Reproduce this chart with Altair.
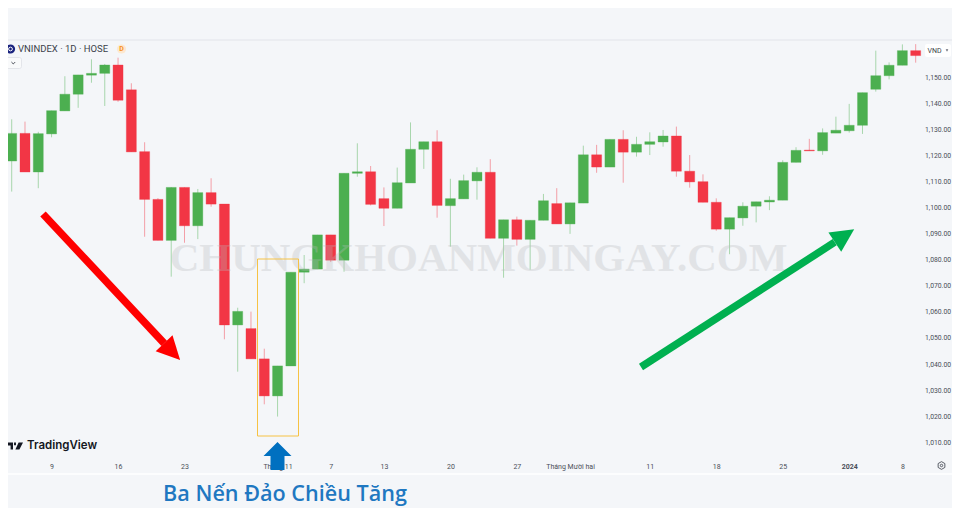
import altair as alt
import pandas as pd

# OHLC
opens  = [1155.2,1117.8,1128.4,1113.6,1128.2,1137.0,1143.4,1150.7,1151.4,1154.6,1145.1,1121.4,1103.1,1087.4,1107.7,1093.0,1105.7,1101.3,1055.0,1053.6,1042.0,1027.8,1039.3,1075.2,1076.4,1089.5,1079.8,1113.1,1113.7,1103.4,1099.7,1109.4,1122.3,1125.2,1100.7,1103.3,1110.2,1113.5,1088.2,1095.3,1087.8,1095.1,1101.5,1093.7,1101.7,1120.2,1115.5,1126.1,1121.2,1124.2,1125.1,1127.4,1113.9,1109.9,1102.0,1091.7,1096.0,1100.5,1102.1,1102.8,1117.3,1122.0,1121.7,1128.5,1129.4,1131.5,1145.3,1150.5,1154.5,1160.1]
closes = [1117.8,1128.4,1113.6,1128.3,1137.1,1143.4,1150.8,1151.4,1154.6,1141.1,1121.3,1103.1,1087.4,1107.7,1093.0,1105.7,1101.3,1055.0,1060.2,1042.0,1027.8,1039.3,1075.2,1076.4,1089.5,1079.8,1113.1,1113.7,1101.2,1099.7,1109.5,1122.3,1125.2,1100.8,1103.4,1110.3,1113.5,1088.2,1095.3,1087.8,1095.1,1102.6,1093.7,1101.8,1120.2,1115.5,1126.1,1121.2,1124.2,1125.2,1127.4,1113.9,1109.8,1102.0,1091.7,1096.1,1100.5,1102.2,1102.8,1117.3,1121.9,1121.7,1128.7,1129.6,1131.5,1144.0,1150.5,1154.5,1160.1,1158.2]
highs  = [1157.0,1133.8,1132.9,1129.0,1137.1,1150.3,1150.8,1156.8,1155.0,1157.4,1147.6,1125.0,1103.6,1107.8,1107.7,1107.1,1111.2,1101.3,1061.6,1060.1,1045.9,1039.3,1075.2,1081.8,1089.5,1089.5,1113.1,1124.6,1115.9,1107.7,1115.3,1132.6,1125.2,1129.6,1111.0,1112.6,1115.4,1118.5,1095.3,1096.5,1095.1,1105.2,1107.4,1101.8,1123.7,1124.0,1126.1,1129.6,1127.1,1128.8,1129.7,1131.0,1120.1,1112.7,1103.5,1096.1,1102.0,1102.2,1104.3,1118.1,1123.1,1126.3,1130.3,1134.8,1139.7,1144.0,1160.1,1155.6,1162.5,1162.6]
lows   = [1117.8,1106.1,1113.6,1107.4,1126.9,1137.0,1138.2,1147.8,1138.9,1140.5,1121.3,1088.8,1087.4,1073.5,1086.5,1087.9,1100.3,1049.5,1037.1,1042.0,1024.6,1019.9,1039.3,1071.0,1076.4,1079.1,1075.4,1111.8,1100.8,1092.9,1099.7,1109.4,1114.8,1096.1,1085.0,1103.3,1103.0,1088.2,1073.1,1085.4,1076.2,1095.1,1093.7,1089.9,1101.7,1113.3,1115.5,1109.5,1119.5,1120.1,1123.3,1111.8,1107.6,1102.0,1091.1,1082.1,1093.0,1094.3,1099.0,1102.8,1117.3,1121.7,1120.2,1128.5,1128.7,1128.2,1144.4,1149.1,1154.5,1155.5]
sessions = list(range(len(opens)))

tick_sessions = [4, 9, 14, 21, 25, 29, 34, 39, 43, 49, 54, 59, 64, 68]
tick_labels = ["9", "16", "23", "Tháng 11", "7", "13", "20", "27", "Tháng Mười hai", "11", "18", "25", "2024", "8"]
price_ticks = [1010, 1020, 1030, 1040, 1050, 1060, 1070, 1080, 1090, 1100, 1110, 1120, 1130, 1140, 1150]

BG = "#f4f6f9"
RED = "#f23645"
GREEN = "#4caf50"
UI = "Roboto"

df = pd.DataFrame({"s": sessions, "o": opens, "c": closes, "h": highs, "l": lows})
df["dir"] = ["up" if c >= o else "down" for o, c in zip(opens, closes)]
df["top"] = df[["o", "c"]].max(axis=1)
df["bot"] = df[["o", "c"]].min(axis=1)

x_scale = alt.Scale(domain=[0.722, 69.476], nice=False, zero=False, padding=0)
y_scale = alt.Scale(domain=[1004.02, 1176.44], nice=False, zero=False, padding=0)
col = alt.Scale(domain=["up", "down"], range=[GREEN, RED])

label_map = "{" + ",".join(f"{s}:'{t}'" for s, t in zip(tick_sessions, tick_labels)) + "}"
x_axis = alt.Axis(
    values=tick_sessions, labelExpr=f"{label_map}[datum.value]", title=None, grid=False,
    domain=False, ticks=False, labelFont=UI, labelFontSize=7, labelColor="#4a4e58",
    labelPadding=4, labelAngle=0, labelFlush=False, labelOverlap=False,
    labelFontWeight={"condition": {"test": "datum.value == 64", "value": "bold"}, "value": "normal"},
)
y_axis = alt.Axis(
    values=price_ticks, format=",.2f", orient="right", title=None, grid=False,
    domain=False, ticks=False, labelFont=UI, labelFontSize=6.8, labelColor="#4a4e58",
    labelPadding=2.5, labelFlush=False, labelOverlap=False,
)

wicks = alt.Chart(df).mark_rule(strokeWidth=1, opacity=0.45, clip=True).encode(
    x=alt.X("s:Q", scale=x_scale, axis=x_axis),
    y=alt.Y("l:Q", scale=y_scale, axis=y_axis),
    y2="h:Q",
    color=alt.Color("dir:N", scale=col, legend=None),
)
bodies = alt.Chart(df).mark_bar(size=10, strokeWidth=1, strokeOpacity=0.35, clip=True).encode(
    x=alt.X("s:Q", scale=x_scale, axis=x_axis),
    y=alt.Y("bot:Q", scale=y_scale, axis=y_axis),
    y2="top:Q",
    color=alt.Color("dir:N", scale=col, legend=None),
    stroke=alt.Stroke("dir:N", scale=col, legend=None),
)


def note():
    return alt.Chart(alt.Data(values=[{"n": 1}]))


def pos(x, y):
    return {"x": alt.value(x), "y": alt.value(y)}


def seg(x, x2, y, y2):
    return {"x": alt.value(x), "x2": alt.value(x2), "y": alt.value(y), "y2": alt.value(y2)}


TRI = "M0,-1 L1,1 L-1,1 Z"
UP_ARROW = "M0,-1 L1,0 L0.5,0 L0.5,1 L-0.5,1 L-0.5,0 L-1,0 Z"
HEX = "M0,-1 L0.87,-0.5 L0.87,0.5 L0,1 L-0.87,0.5 L-0.87,-0.5 Z"
TV = ("M-1,-0.45 L-0.25,-0.45 L-0.25,0.45 L-0.55,0.45 L-0.55,-0.05 L-1,-0.05 Z "
      "M-0.12,-0.45 L0.12,-0.45 L0.12,-0.1 L-0.12,-0.1 Z "
      "M0.45,-0.45 L1,-0.45 L0.55,0.45 L0.05,0.45 Z")

layers = [
    note().mark_rule(color="#e2e4ea", strokeWidth=1).encode(**seg(0, 944, 32, 32)),
    note().mark_rule(color="#ffffff", strokeWidth=1.5).encode(**seg(0, 944, 466, 466)),
    wicks,
    bodies,
    # watermark
    note().mark_text(text="CHUNGKHOANMOINGAY.COM", font="Liberation Serif", fontWeight="bold",
                     fontSize=41, color="#b8babd", opacity=0.3, align="center", baseline="middle"
                     ).encode(**pos(470.5, 251)),
    # pattern box
    note().mark_rect(fillOpacity=0, stroke="#f6c244", strokeWidth=1).encode(**seg(249.5, 290.5, 251, 428)),
    # red arrow
    note().mark_rule(color="#ff0000", strokeWidth=7.5).encode(**seg(35, 156.2, 206, 335.4)),
    note().mark_point(shape=TRI, filled=True, opacity=1, color="#ff0000", size=538, angle=136.4).encode(**pos(164.1, 343.7)),
    # green arrow
    note().mark_rule(color="#00b050", strokeWidth=7.5).encode(**seg(633, 826.7, 359, 234.2)),
    note().mark_point(shape=TRI, filled=True, opacity=1, color="#00b050", size=538, angle=56.6).encode(**pos(836.5, 227.7)),
    # blue arrow
    note().mark_point(shape=UP_ARROW, filled=True, opacity=1, color="#0070c0", size=784).encode(**pos(269.5, 448)),
    # caption
    note().mark_text(text="Ba Nến Đảo Chiều Tăng", font="Open Sans", fontWeight=600, fontSize=21.6,
                     color="#1f78c1", align="center", baseline="middle").encode(**pos(277, 487)),
    # header
    note().mark_point(shape="circle", filled=True, opacity=1, color="#1a237e", size=85).encode(**pos(2.5, 41)),
    note().mark_point(shape="circle", filled=False, opacity=1, color="#ffffff", size=14, strokeWidth=1).encode(**pos(2.5, 41)),
    note().mark_text(text="VNINDEX · 1D · HOSE", font=UI, fontSize=9.5, color="#3b3f4a", align="left",
                     baseline="middle").encode(**pos(10, 41)),
    note().mark_point(shape="circle", filled=True, opacity=1, color="#fde8cf", size=85).encode(**pos(113.5, 41)),
    note().mark_text(text="D", font=UI, fontWeight="bold", fontSize=7, color="#f6921e", align="center",
                     baseline="middle").encode(**pos(113.5, 41)),
    note().mark_rect(fill="#f9fafb", stroke="#e3e5ea", strokeWidth=1, cornerRadius=2).encode(**seg(-2, 13.5, 49.5, 60.5)),
    note().mark_point(shape="M-1,-0.5 L0,0.5 L1,-0.5", filled=False, opacity=1, color="#4a4e58", size=14, strokeWidth=1).encode(**pos(5.3, 55)),
    # currency box
    note().mark_rect(fill="#ffffff", cornerRadius=2).encode(**seg(917, 943, 36, 49)),
    note().mark_text(text="VND", font=UI, fontSize=7, color="#3b3f4a", align="left", baseline="middle").encode(**pos(919.5, 42.5)),
    note().mark_point(shape="triangle-down", filled=True, opacity=1, color="#6a6d78", size=7).encode(**pos(939, 42.5)),
    # logo
    note().mark_point(shape=TV, filled=True, opacity=1, color="#131722", size=256).encode(**pos(7, 438)),
    note().mark_text(text="TradingView", font="Inter", fontWeight=600, fontSize=11.5, color="#131722",
                     align="left", baseline="middle").encode(**pos(19, 438)),
    # gear
    note().mark_point(shape=HEX, filled=False, opacity=1, color="#4a4e58", size=60, strokeWidth=0.9).encode(**pos(933.5, 457.5)),
    note().mark_point(shape="circle", filled=False, opacity=1, color="#4a4e58", size=6, strokeWidth=0.9).encode(**pos(933.5, 457.5)),
]

chart = alt.layer(*layers).properties(
    width=914, height=450, background=BG,
    autosize=alt.AutoSizeParams(type="none"),
    padding={"left": 0, "top": 0, "right": 30, "bottom": 50},
).configure_view(strokeWidth=0)

chart.save("out.html", embed_options={"renderer": "svg", "actions": False})
